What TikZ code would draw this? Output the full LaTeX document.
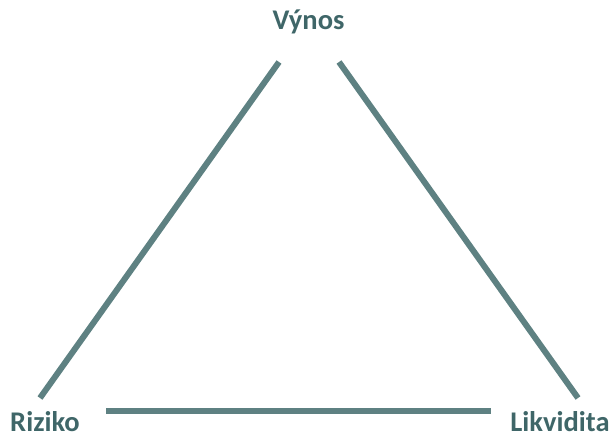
\documentclass[tikz,border=0pt]{standalone}
\usepackage{fontspec}
\setmainfont{Carlito}
\definecolor{edgecol}{HTML}{5E8182}
\definecolor{labcol}{HTML}{3F6668}
\tikzset{
  lab/.style={font=\fontsize{28.5}{31}\selectfont\bfseries, text=labcol, inner sep=0pt, anchor=base},
  side/.style={draw=edgecol, line width=6pt}
}
\begin{document}
\begin{tikzpicture}[x=1pt,y=-1pt]
\useasboundingbox (0,0) rectangle (612,436);
\node[lab] (vynos) at (308.5,30) {Výnos};
\node[lab] (riziko) at (45,431) {Riziko};
\node[lab] (likv) at (560,431) {Likvidita};
\coordinate (lt) at (279,62);
\coordinate (lb) at (40,398);
\coordinate (rt) at (339,62);
\coordinate (rb) at (578,398);
\coordinate (bl) at (106,410.5);
\coordinate (br) at (491,410.5);
\draw[side] (lt) -- (lb);
\draw[side] (rt) -- (rb);
\draw[side] (bl) -- (br);
\end{tikzpicture}
\end{document}
